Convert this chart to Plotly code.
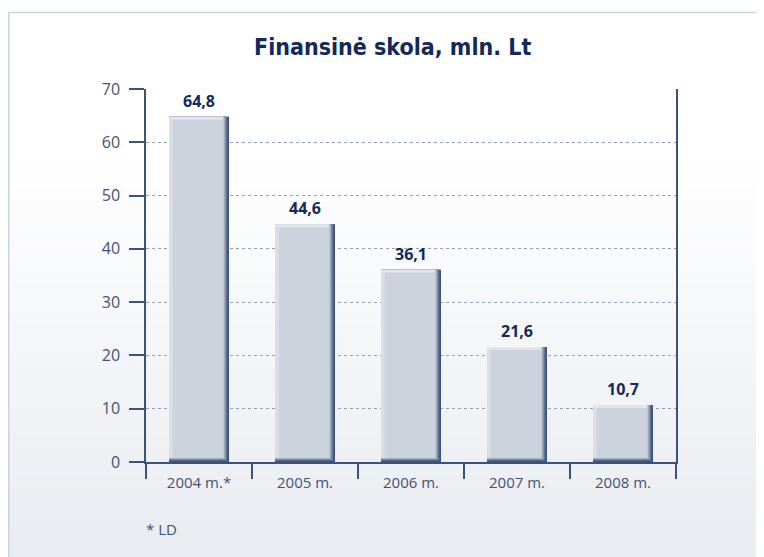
import plotly.graph_objects as go

# ---- data ----
categories = ["2004 m.*", "2005 m.", "2006 m.", "2007 m.", "2008 m."]
values = [64.8, 44.6, 36.1, 21.6, 10.7]
y_ticks = [0, 10, 20, 30, 40, 50, 60, 70]
title_text = "Finansinė skola, mln. Lt"
footnote = "* LD"

# ---- geometry (reference pixel coords; page body has an 8px margin) ----
OFF = 8
W, H = 764 - OFF, 557 - OFF
L, R, T, B = 146 - OFF, 676 - OFF, 89 - OFF, 462 - OFF
pw, ph = R - L, B - T

def px(X):
    return (X - OFF - L) / pw

def py(Y):
    return (B - (Y - OFF)) / ph

NAVY = "#12295a"
AXIS = "#3b5279"
TICKF = "#3d5478"

shapes = []
n = 40
top_c = (255, 255, 255)
bot_c = (232, 235, 240)
y_start = 12
for i in range(n):
    y0 = y_start + (557 - y_start) * i / n
    y1 = y_start + (557 - y_start) * (i + 1) / n
    t = max(0.0, (y0 - 150) / (557 - 150))
    c = tuple(int(round(top_c[k] + (bot_c[k] - top_c[k]) * t)) for k in range(3))
    shapes.append(dict(type="rect", xref="paper", yref="paper",
                       x0=px(8), x1=px(800), y0=py(y1 + 1), y1=py(y0),
                       fillcolor="rgb(%d,%d,%d)" % c, line=dict(width=0), layer="below"))
shapes.append(dict(type="rect", xref="paper", yref="paper",
                   x0=px(8.7), x1=px(800), y0=py(600), y1=py(12.5),
                   fillcolor="rgba(0,0,0,0)", line=dict(color="#c8d2e2", width=1.5),
                   layer="below"))

BW = 0.566
steps = ["#3b5279", "#4a5f85", "#627596", "#8190aa", "#a3aec0", "#bec6d3", "#cdd3dd"]
step_w = 0.0095
step_h = 0.14

fig = go.Figure()
for i, col in enumerate(steps):
    w = BW - step_w * i
    b = step_h * i
    fig.add_trace(go.Bar(x=categories, y=[v - b for v in values], base=[b] * len(values),
                         width=w, offset=-BW / 2,
                         marker=dict(color=col, line=dict(width=0)),
                         hoverinfo="skip", showlegend=False))
face_w = BW - step_w * (len(steps) - 1)
face_b = step_h * (len(steps) - 1)
# left highlight strip
fig.add_trace(go.Bar(x=categories, y=[v - face_b - 0.6 for v in values], base=[face_b] * len(values),
                     width=0.035, offset=-BW / 2,
                     marker=dict(color="#dadfe7", line=dict(width=0)), hoverinfo="skip", showlegend=False))
# top highlight
fig.add_trace(go.Bar(x=categories, y=[0.55] * len(values), base=[v - 0.55 for v in values],
                     width=face_w, offset=-BW / 2,
                     marker=dict(color="#e2e5eb", line=dict(width=0)), hoverinfo="skip", showlegend=False))

annotations = []
for c, v in zip(categories, values):
    annotations.append(dict(x=c, y=v, xref="x", yref="y", yshift=16, yanchor="middle",
                            text="<b>" + ("%.1f" % v).replace(".", ",") + "</b>", showarrow=False,
                            font=dict(family="Open Sans", size=16, color=NAVY)))
annotations.append(dict(text=footnote, xref="paper", yref="paper", x=px(144), y=py(529),
                        xanchor="left", yanchor="middle", showarrow=False,
                        font=dict(family="Open Sans", size=15, color=TICKF)))
annotations.append(dict(text="<b>" + title_text + "</b>", xref="paper", yref="paper",
                        x=px(392), y=py(47), xanchor="center", yanchor="middle", showarrow=False,
                        font=dict(family="Liberation Sans Narrow, DejaVu Sans Condensed, Open Sans",
                                  size=23, color=NAVY)))

fig.update_layout(
    width=W, height=H,
    margin=dict(l=L, r=W - R, t=T, b=H - B),
    paper_bgcolor="white",
    plot_bgcolor="rgba(0,0,0,0)",
    barmode="overlay",
    shapes=shapes,
    annotations=annotations,
)

fig.update_yaxes(range=[0, 70], tickvals=y_ticks, ticks="outside", ticklen=15, tickwidth=1.5,
                 tickcolor=AXIS, showline=True, linecolor=AXIS, linewidth=1.5, mirror=True,
                 showgrid=True, gridcolor="#93a0b7", griddash="dot", gridwidth=1,
                 zeroline=False, tickfont=dict(family="Open Sans", size=16, color=TICKF),
                 ticklabelstandoff=6)
fig.update_xaxes(tickson="boundaries", ticks="outside", ticklen=15, tickwidth=1.5, tickcolor=AXIS,
                 showline=True, linecolor=AXIS, linewidth=1.5, showgrid=False,
                 tickfont=dict(family="Open Sans", size=15, color=TICKF), range=[-0.5, 4.5],
                 ticklabelstandoff=6)

fig.write_html("out.html")
